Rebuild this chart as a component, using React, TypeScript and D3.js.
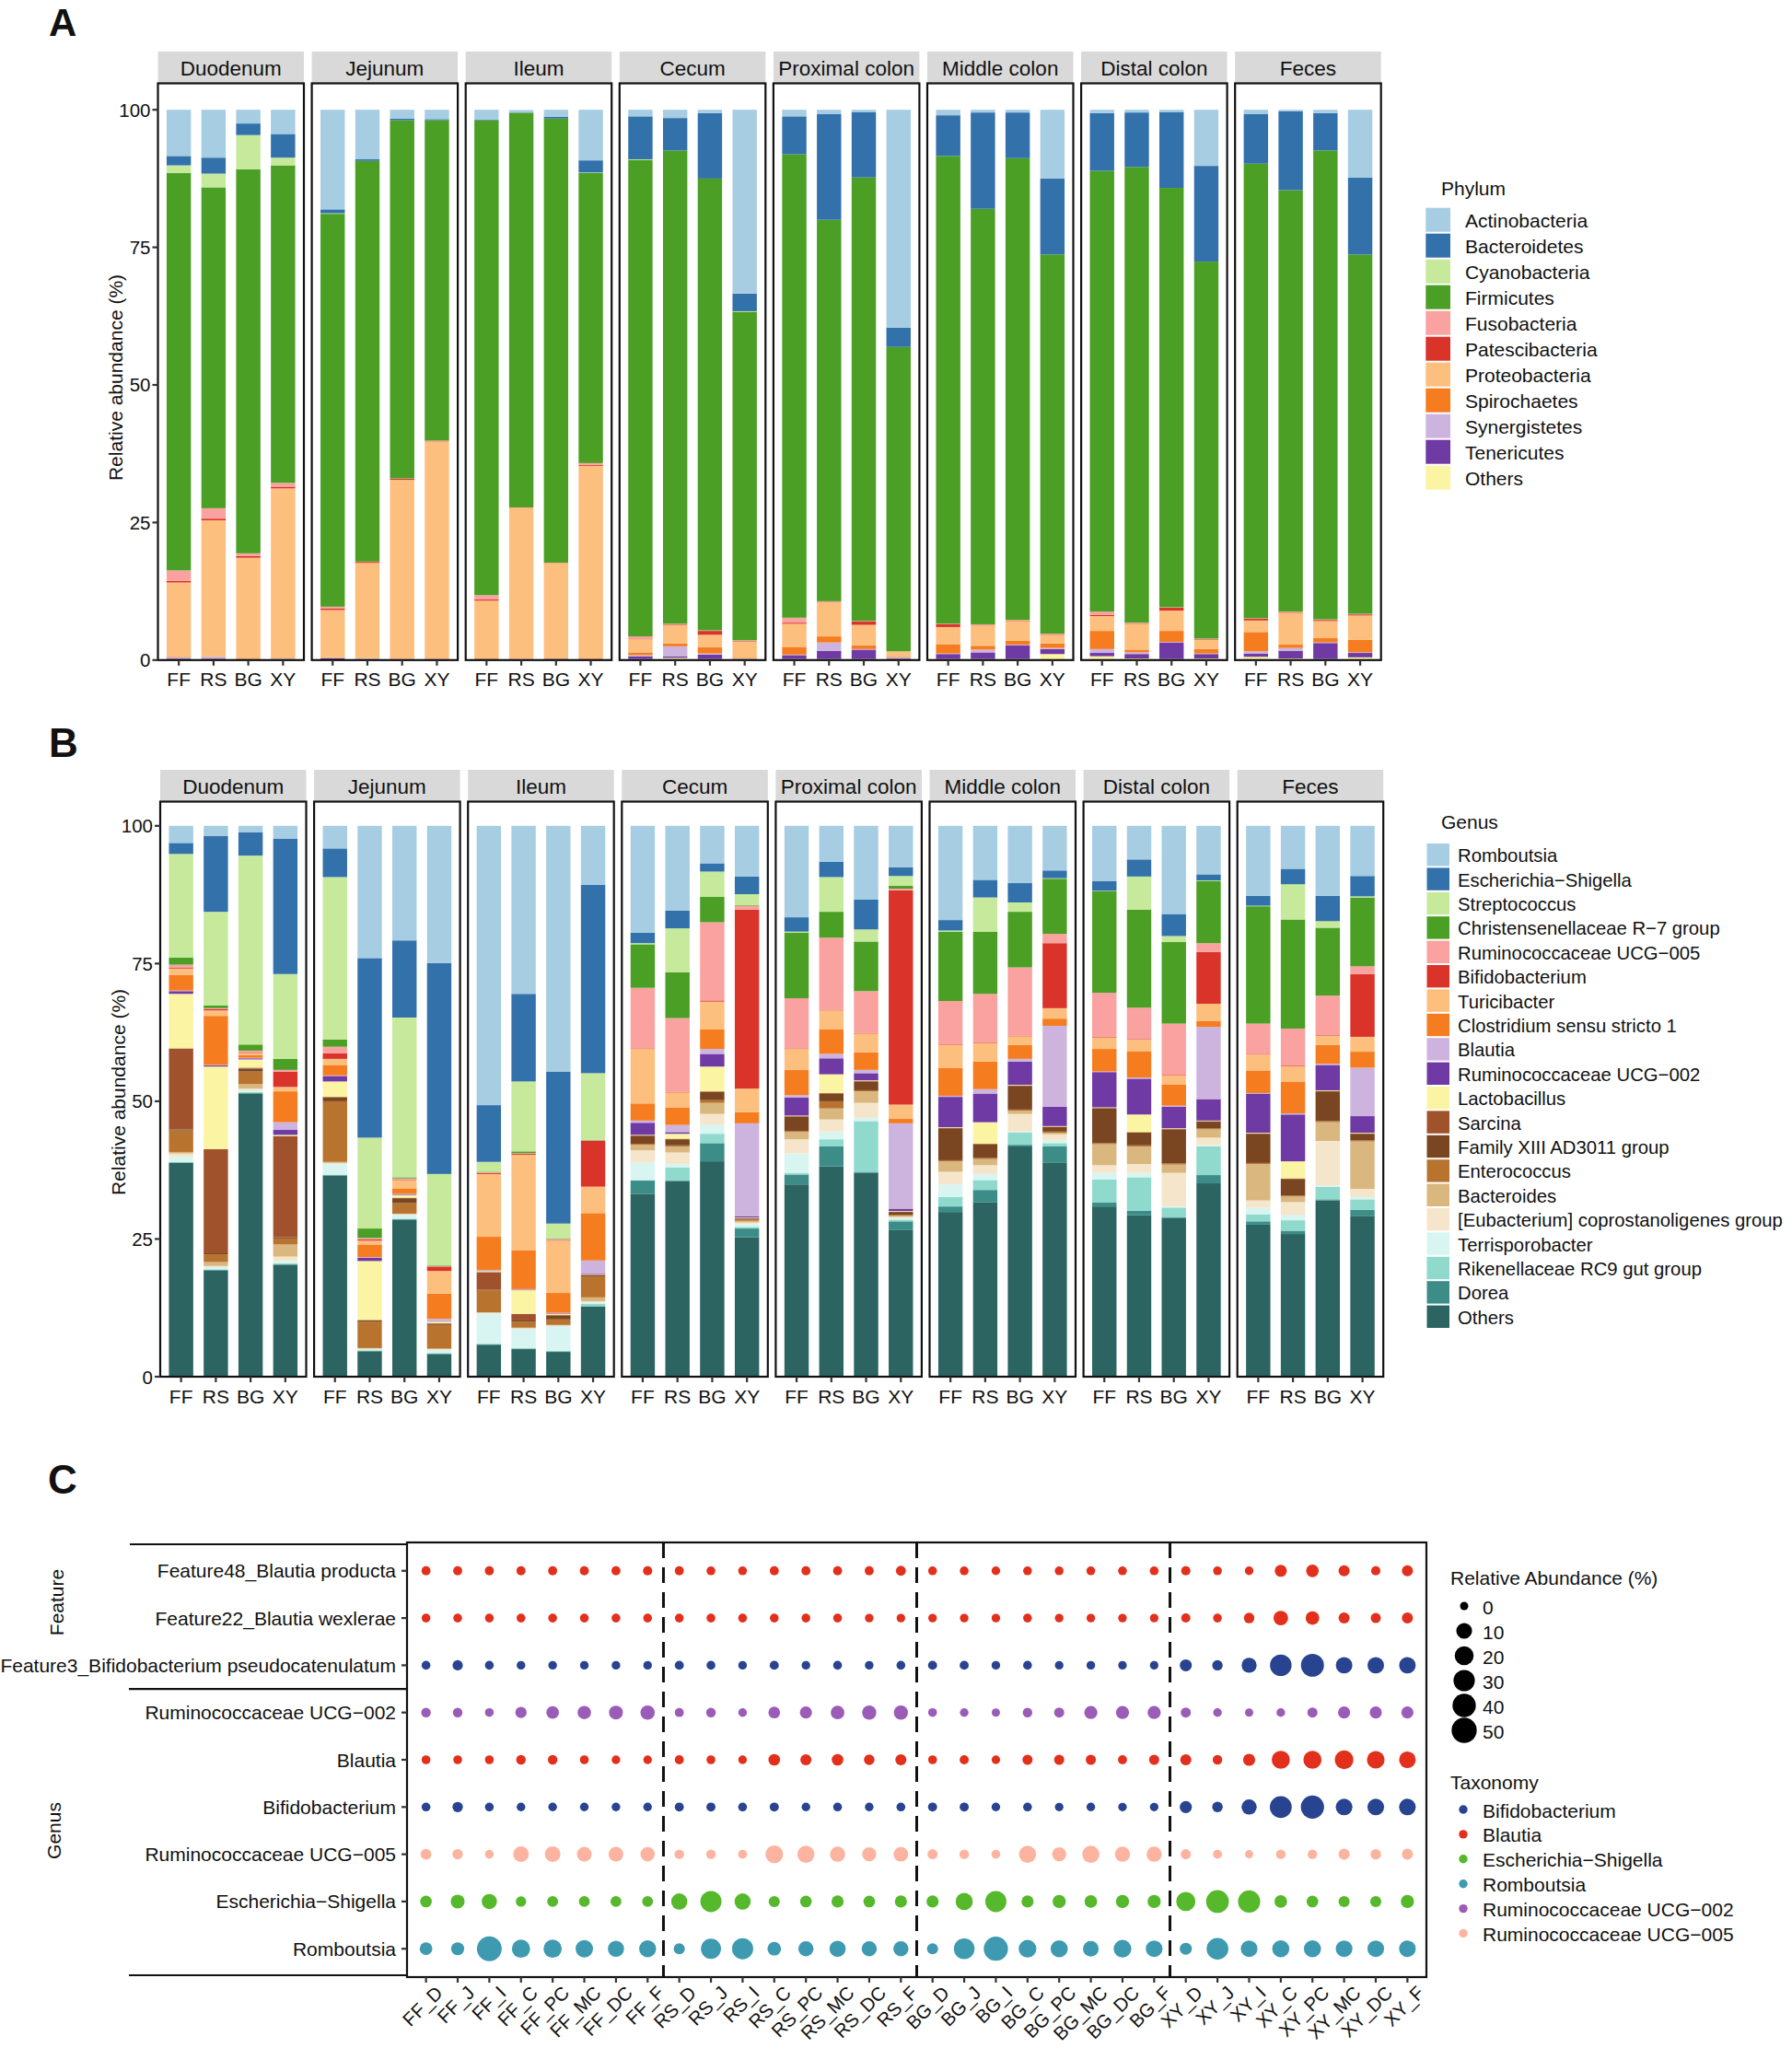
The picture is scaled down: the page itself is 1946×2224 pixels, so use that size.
import React from "react";
import * as d3 from "d3";

const FONT = "'Liberation Sans', Arial, Helvetica, sans-serif";

const sites = ["Duodenum", "Jejunum", "Ileum", "Cecum", "Proximal colon", "Middle colon", "Distal colon", "Feces"];
const groups = ["FF", "RS", "BG", "XY"];
const yTicks = [0, 25, 50, 75, 100];

// ---------- Panel A : Phylum ----------
const phyla = ["Actinobacteria", "Bacteroidetes", "Cyanobacteria", "Firmicutes", "Fusobacteria", "Patescibacteria", "Proteobacteria", "Spirochaetes", "Synergistetes", "Tenericutes", "Others"];
const phylumColors = ["#a6cde2", "#3371ab", "#c6e99c", "#4a9f24", "#f9a29f", "#d9332a", "#fdbf7e", "#f67c20", "#cdb4df", "#6f3aa4", "#fbf4a3"];

// each bar listed bottom -> top : Others, Tenericutes, Synergistetes, Spirochaetes, Proteobacteria,
// Patescibacteria, Fusobacteria, Firmicutes, Cyanobacteria, Bacteroidetes, Actinobacteria
const phylumDuodenum = [
  [0.2, 0.1, 0.2, 0.1, 13.5, 0.3, 1.9, 72.2, 1.4, 1.7, 8.4],
  [0.2, 0.1, 0.3, 0.1, 24.7, 0.3, 1.9, 58.3, 2.5, 2.9, 8.7],
  [0.1, 0.05, 0.05, 0.1, 18.3, 0.3, 0.5, 69.8, 6.2, 2.1, 2.5],
  [0.2, 0.05, 0.05, 0.1, 30.8, 0.3, 0.7, 57.7, 1.4, 4.3, 4.4],
];
const phylumJejunum = [
  [0.1, 0.2, 0.1, 0.1, 8.6, 0.3, 0.3, 71.4, 0.1, 0.7, 18.1],
  [0.2, 0.05, 0.05, 0.05, 17.3, 0.2, 0.05, 72.8, 0, 0.3, 9.0],
  [0.1, 0.05, 0.05, 0.05, 32.5, 0.2, 0.05, 65.1, 0, 0.3, 1.6],
  [0.1, 0.05, 0.05, 0.05, 39.5, 0.1, 0.05, 58.2, 0, 0.2, 1.7],
];
const phylumIleum = [
  [0.1, 0.05, 0.05, 0.1, 10.5, 0.2, 0.8, 86.3, 0, 0.1, 1.8],
  [0.1, 0.05, 0.05, 0.05, 27.4, 0.05, 0.05, 71.7, 0, 0.05, 0.45],
  [0.1, 0.1, 0.05, 0.05, 17.3, 0.05, 0.05, 80.7, 0, 0.3, 1.3],
  [0.1, 0.05, 0.05, 0.1, 35.0, 0.2, 0.3, 52.7, 0.1, 2.2, 9.2],
];
const phylumCecum = [
  [0.2, 0.5, 0.2, 0.5, 2.4, 0.1, 0.4, 86.6, 0.1, 7.8, 1.2],
  [0.4, 0.3, 1.8, 0.5, 3.4, 0.1, 0.1, 86.0, 0, 5.9, 1.5],
  [0.2, 0.8, 0.2, 1.1, 2.3, 0.7, 0.1, 82.1, 0, 11.9, 0.6],
  [0.2, 0.05, 0.05, 0.1, 3.0, 0.1, 0.1, 59.7, 0.1, 3.2, 33.4],
];
const phylumProximal = [
  [0.2, 0.7, 0.1, 1.4, 4.2, 0.2, 0.9, 84.2, 0, 6.9, 1.2],
  [0.2, 1.5, 1.5, 1.1, 6.2, 0.1, 0.1, 69.3, 0, 19.2, 0.8],
  [0.2, 1.7, 0.1, 0.7, 3.7, 0.6, 0.1, 80.6, 0, 11.9, 0.4],
  [0.2, 0.1, 0.2, 0.1, 1.0, 0, 0, 55.3, 0, 3.5, 39.6],
];
const phylumMiddle = [
  [0.2, 0.9, 0.1, 1.7, 3.1, 0.5, 0.1, 85.0, 0, 7.4, 1.0],
  [0.2, 1.2, 0.5, 0.7, 3.7, 0.1, 0.1, 75.5, 0, 17.5, 0.5],
  [0.2, 2.5, 0.1, 0.7, 3.6, 0.1, 0.1, 83.9, 0, 8.3, 0.5],
  [1.1, 0.9, 0.2, 0.8, 1.6, 0.1, 0.1, 68.9, 0, 13.8, 12.5],
];
const phylumDistal = [
  [0.7, 0.6, 0.7, 3.3, 2.7, 0.2, 0.6, 80.1, 0, 10.5, 0.6],
  [0.3, 0.8, 0.3, 0.5, 4.7, 0.1, 0.1, 82.8, 0, 9.9, 0.5],
  [0.2, 3.0, 0.1, 2.0, 3.7, 0.5, 0.1, 76.2, 0, 13.8, 0.4],
  [0.3, 0.8, 0.1, 0.8, 1.7, 0.1, 0.1, 68.5, 0, 17.4, 10.2],
];
const phylumFeces = [
  [0.6, 0.6, 0.4, 3.5, 2.1, 0.3, 0.1, 82.6, 0, 9.0, 0.8],
  [0.3, 1.4, 0.5, 0.6, 5.8, 0.1, 0.1, 76.6, 0, 14.3, 0.3],
  [0.2, 2.9, 0.1, 0.8, 3.1, 0.2, 0.1, 85.2, 0, 6.8, 0.6],
  [0.5, 0.8, 0.1, 2.3, 4.4, 0.2, 0.1, 65.3, 0, 14.0, 12.3],
];
const phylumBySite = [phylumDuodenum, phylumJejunum, phylumIleum, phylumCecum, phylumProximal, phylumMiddle, phylumDistal, phylumFeces];

// ---------- Panel B : Genus ----------
const genera = ["Romboutsia", "Escherichia\u2212Shigella", "Streptococcus", "Christensenellaceae R\u22127 group", "Ruminococcaceae UCG\u2212005", "Bifidobacterium", "Turicibacter", "Clostridium sensu stricto 1", "Blautia", "Ruminococcaceae UCG\u2212002", "Lactobacillus", "Sarcina", "Family XIII AD3011 group", "Enterococcus", "Bacteroides", "[Eubacterium] coprostanoligenes group", "Terrisporobacter", "Rikenellaceae RC9 gut group", "Dorea", "Others"];
const genusColors = ["#a6cde2", "#3371ab", "#c6e99c", "#4a9f24", "#f9a29f", "#d9332a", "#fdbf7e", "#f67c20", "#cdb4df", "#6f3aa4", "#fbf4a3", "#a0522d", "#7a4622", "#b8742f", "#d9b77e", "#f5e6cb", "#d8f5f2", "#8fd9cd", "#3c8d88", "#2b6460"];

// each bar listed bottom -> top : Others, Dorea, Rikenellaceae, Terrisporobacter, Eubacterium, Bacteroides,
// Enterococcus, Family XIII, Sarcina, Lactobacillus, UCG-002, Blautia, Clostridium, Turicibacter,
// Bifidobacterium, UCG-005, Christensenellaceae, Streptococcus, Escherichia, Romboutsia
const genusDuodenum = [
  [38.8, 0.1, 0.1, 0.9, 0.6, 0.3, 3.9, 0.2, 14.7, 9.9, 0.5, 0.1, 2.8, 1.2, 0.2, 0.5, 1.3, 18.8, 2.0, 3.1],
  [19.3, 0.1, 0.1, 0.4, 0.2, 0.7, 1.4, 0.2, 18.9, 15.0, 0.2, 0.1, 8.9, 1.0, 0.2, 0.2, 0.5, 17.0, 13.8, 1.8],
  [51.4, 0.1, 0.2, 0.3, 0.3, 0.8, 2.3, 0.5, 0.2, 1.5, 0.2, 0.1, 0.5, 0.3, 0.1, 0.4, 1.1, 34.3, 4.2, 1.2],
  [20.3, 0.1, 0.2, 0.4, 0.8, 2.2, 1.1, 0.2, 18.4, 0.2, 0.9, 1.4, 5.6, 0.8, 2.8, 0.3, 2.0, 15.4, 24.6, 2.3],
];
const genusJejunum = [
  [36.5, 0.1, 0.1, 1.9, 0.2, 0.2, 11.0, 0.7, 0.1, 2.8, 1.0, 0.1, 1.9, 1.1, 1.0, 1.2, 1.3, 29.5, 5.2, 4.1],
  [4.6, 0.1, 0.1, 0.2, 0.1, 0.1, 4.8, 0.2, 0.1, 10.7, 0.6, 0.1, 2.3, 0.7, 0.2, 0.3, 1.7, 16.5, 32.6, 24.0],
  [28.5, 0.1, 0.1, 0.7, 0.1, 0.1, 1.9, 0.9, 0.1, 0.5, 0.1, 0.1, 1.0, 1.5, 0.1, 0.2, 0.2, 29.0, 14.0, 20.8],
  [4.1, 0.1, 0.1, 0.6, 0.1, 0.1, 4.3, 0.2, 0.1, 0.3, 0.1, 0.4, 4.6, 4.1, 0.8, 0.1, 0.1, 16.6, 38.3, 24.9],
];
const genusIleum = [
  [5.8, 0.1, 0.1, 5.5, 0.1, 0.1, 4.0, 0.1, 3.2, 0.2, 0.1, 0.1, 6.0, 11.4, 0.2, 0.1, 0.1, 1.8, 10.3, 50.7],
  [5.0, 0.1, 0.1, 3.5, 0.1, 0.1, 1.1, 0.2, 1.2, 4.3, 0.1, 0.1, 7.0, 17.4, 0.2, 0.1, 0.3, 12.7, 15.9, 30.5],
  [4.5, 0.1, 0.1, 4.5, 0.1, 0.1, 1.0, 0.7, 0.1, 0.2, 0.1, 0.1, 3.6, 9.5, 0.1, 0.2, 0.1, 2.7, 27.6, 44.6],
  [12.7, 0.1, 0.4, 0.3, 0.2, 0.7, 3.8, 0.2, 0.1, 0.1, 0.1, 2.4, 8.6, 4.8, 8.3, 0.1, 0.1, 12.1, 34.2, 10.7],
];
const genusCecum = [
  [33.2, 2.4, 0.1, 3.2, 2.2, 1.0, 0.2, 1.4, 0.1, 0.1, 2.2, 0.4, 3.1, 9.9, 0.1, 11.0, 7.9, 0.2, 1.9, 19.4],
  [35.5, 0.1, 2.4, 0.6, 2.1, 1.1, 0.2, 1.1, 0.1, 0.9, 0.3, 1.3, 3.2, 2.7, 0.1, 13.4, 8.3, 8.0, 3.2, 15.4],
  [39.1, 3.3, 1.7, 1.7, 1.9, 2.0, 0.5, 1.5, 0.1, 4.5, 2.3, 0.9, 3.6, 5.0, 0.2, 14.2, 4.6, 4.6, 1.5, 6.8],
  [25.3, 1.6, 0.3, 0.5, 0.3, 0.3, 0.2, 0.2, 0.1, 0.1, 0.2, 16.9, 2.0, 4.3, 32.5, 0.7, 0.1, 2.0, 3.2, 9.2],
];
const genusProximal = [
  [34.9, 1.8, 0.3, 3.5, 2.6, 1.3, 0.2, 2.6, 0.1, 0.1, 3.3, 0.4, 4.6, 3.8, 0.1, 9.1, 11.9, 0.2, 2.6, 16.6],
  [38.2, 3.6, 1.3, 1.4, 2.2, 2.0, 1.3, 1.4, 0.1, 3.4, 2.9, 0.8, 4.5, 3.4, 0.1, 13.1, 4.7, 6.3, 2.8, 6.5],
  [37.0, 0.2, 9.2, 0.6, 2.7, 2.1, 0.2, 1.6, 0.1, 0.1, 1.3, 0.6, 3.2, 3.4, 0.1, 7.6, 9.0, 2.2, 5.4, 13.4],
  [26.6, 1.6, 0.3, 0.3, 0.2, 0.2, 0.2, 0.5, 0.1, 0.1, 0.4, 15.5, 0.8, 2.6, 38.9, 0.3, 0.5, 1.8, 1.6, 7.5],
];
const genusMiddle = [
  [29.9, 1.0, 1.7, 2.3, 2.3, 1.9, 0.2, 5.8, 0.1, 0.1, 5.5, 0.2, 5.0, 4.2, 0.1, 7.9, 12.6, 0.2, 1.9, 17.1],
  [31.7, 2.2, 1.8, 1.1, 1.6, 1.1, 0.2, 2.5, 0.1, 3.9, 5.2, 0.8, 5.0, 3.4, 0.1, 8.8, 11.3, 6.2, 3.2, 9.8],
  [41.8, 0.3, 2.2, 0.2, 3.2, 0.6, 0.2, 4.3, 0.1, 0.1, 4.2, 0.5, 2.5, 1.6, 0.1, 12.4, 10.1, 1.7, 3.5, 10.4],
  [38.8, 3.0, 0.6, 0.6, 1.0, 0.3, 0.2, 0.8, 0.1, 0.1, 3.5, 14.7, 1.3, 1.9, 11.8, 1.7, 10.0, 0.1, 1.4, 8.1],
];
const genusDistal = [
  [30.9, 0.7, 4.2, 1.2, 1.4, 3.8, 0.2, 6.3, 0.1, 0.1, 6.4, 0.1, 4.1, 2.1, 0.1, 8.0, 18.4, 0.1, 1.8, 10.0],
  [29.3, 0.8, 6.1, 0.8, 1.6, 3.2, 0.2, 2.3, 0.1, 3.2, 6.5, 0.2, 4.8, 2.1, 0.1, 5.7, 17.8, 6.0, 3.1, 6.1],
  [28.8, 0.2, 1.7, 0.2, 6.1, 1.5, 0.2, 6.2, 0.1, 0.1, 3.9, 0.2, 3.8, 1.7, 0.1, 9.3, 14.8, 1.1, 4.0, 16.0],
  [35.1, 1.5, 5.2, 0.2, 1.4, 1.5, 0.2, 1.2, 0.1, 0.1, 3.9, 13.1, 1.1, 3.1, 9.4, 1.6, 11.3, 0.1, 1.1, 8.8],
];
const genusFeces = [
  [27.6, 0.6, 1.3, 1.2, 1.3, 6.6, 0.2, 5.3, 0.1, 0.1, 7.1, 0.1, 4.1, 2.9, 0.1, 5.5, 21.3, 0.1, 1.8, 12.7],
  [25.9, 0.6, 1.9, 1.0, 2.3, 1.0, 0.2, 3.0, 0.1, 3.1, 8.5, 0.2, 5.7, 2.9, 0.1, 6.7, 19.8, 6.4, 2.8, 7.8],
  [32.0, 0.2, 2.3, 0.2, 8.1, 3.4, 0.2, 5.4, 0.1, 0.1, 4.6, 0.2, 3.4, 1.7, 0.1, 7.2, 12.3, 1.2, 4.6, 12.7],
  [29.2, 1.1, 1.9, 0.4, 1.5, 8.6, 0.2, 1.2, 0.1, 0.1, 3.0, 8.8, 2.9, 2.7, 11.4, 1.4, 12.5, 0.2, 3.7, 9.1],
];
const genusBySite = [genusDuodenum, genusJejunum, genusIleum, genusCecum, genusProximal, genusMiddle, genusDistal, genusFeces];

// ---------- Panel C : bubble plot ----------
const siteCodes = ["D", "J", "I", "C", "PC", "MC", "DC", "F"];
const bubbleRows = ["Feature48_Blautia producta", "Feature22_Blautia wexlerae", "Feature3_Bifidobacterium pseudocatenulatum", "Ruminococcaceae UCG\u2212002", "Blautia", "Bifidobacterium", "Ruminococcaceae UCG\u2212005", "Escherichia\u2212Shigella", "Romboutsia"];
const taxa = ["Bifidobacterium", "Blautia", "Escherichia\u2212Shigella", "Romboutsia", "Ruminococcaceae UCG\u2212002", "Ruminococcaceae UCG\u2212005"];
const taxaColors = ["#284490", "#e2301d", "#55b92b", "#3e9ab1", "#9b5cb8", "#fcb4a0"];
const rowTaxon = [1, 1, 0, 4, 1, 0, 5, 2, 3];
const sizeBreaks = [0, 10, 20, 30, 40, 50];

// 32 columns: FF_D..FF_F, RS_D..RS_F, BG_D..BG_F, XY_D..XY_F
const abFeature48 = [0.1, 0.1, 0.1, 0.1, 0.1, 0.1, 0.1, 0.2, 0.1, 0.05, 0.05, 0.1, 0.1, 0.1, 0.1, 0.5, 0.05, 0.05, 0.02, 0.05, 0.05, 0.05, 0.05, 0.05, 0.2, 0.05, 0.02, 2.6, 3.3, 1.4, 0.2, 1.4];
const abFeature22 = [0.05, 0.05, 0.05, 0.05, 0.05, 0.05, 0.05, 0.05, 0.05, 0.05, 0.05, 0.05, 0.05, 0.05, 0.02, 0.02, 0.02, 0.02, 0.02, 0.05, 0.02, 0.02, 0.02, 0.02, 0.15, 0.05, 0.9, 7.1, 5.0, 1.4, 0.6, 1.4];
const abFeature3 = [0.05, 0.7, 0.05, 0.02, 0.02, 0.02, 0.02, 0.02, 0.1, 0.05, 0.02, 0.1, 0.02, 0.05, 0.02, 0.05, 0.1, 0.1, 0.02, 0.05, 0.01, 0.02, 0.01, 0.01, 2.4, 0.8, 8.0, 31.0, 38.0, 12.0, 12.0, 12.0];
const abUCG002 = [0.3, 0.3, 0.05, 1.6, 3.3, 4.7, 5.5, 6.5, 0.1, 0.3, 0.02, 2.0, 2.6, 5.0, 6.1, 6.1, 0.05, 0.02, 0.0, 0.3, 0.6, 4.2, 4.2, 4.2, 0.6, 0.02, 0.0, 0.02, 0.6, 2.6, 2.6, 2.6];
const abBlautia = [0.05, 0.05, 0.05, 0.3, 0.3, 0.05, 0.02, 0.02, 0.1, 0.05, 0.02, 2.0, 1.4, 2.0, 0.9, 1.4, 0.05, 0.1, 0.01, 0.6, 0.6, 0.6, 0.1, 0.6, 1.4, 0.3, 2.6, 17.1, 17.1, 19.1, 15.5, 12.4];
const abBifido = [0.05, 0.8, 0.05, 0.02, 0.02, 0.02, 0.02, 0.02, 0.1, 0.1, 0.05, 0.1, 0.02, 0.05, 0.02, 0.05, 0.1, 0.1, 0.02, 0.05, 0.01, 0.02, 0.01, 0.01, 2.6, 0.9, 8.4, 32.5, 39.2, 12.4, 12.4, 12.4];
const abUCG005 = [1.2, 0.8, 0.05, 9.5, 9.5, 7.3, 7.3, 6.5, 0.3, 0.3, 0.1, 15.5, 13.8, 8.4, 6.1, 7.1, 0.6, 0.3, 0.05, 13.8, 6.1, 13.8, 8.4, 8.4, 0.6, 0.1, 0.0, 0.3, 0.3, 1.4, 0.9, 1.4];
const abEsch = [2.0, 5.5, 8.4, 0.8, 1.2, 1.2, 1.2, 1.2, 11.0, 29.0, 11.0, 1.4, 2.0, 2.6, 2.0, 2.6, 2.6, 13.8, 29.0, 2.6, 4.2, 3.3, 4.2, 4.2, 20.8, 36.8, 34.0, 3.3, 2.0, 1.4, 1.4, 4.2];
const abRomb = [3.3, 4.0, 47.8, 17.4, 17.4, 14.6, 10.8, 13.2, 1.4, 24.9, 29.0, 5.0, 8.4, 11.0, 8.4, 8.4, 1.4, 27.2, 44.7, 15.5, 13.8, 9.6, 15.5, 12.4, 2.6, 31.8, 12.4, 13.8, 13.8, 12.4, 12.4, 12.4];
const bubbleData = [abFeature48, abFeature22, abFeature3, abUCG002, abBlautia, abBifido, abUCG005, abEsch, abRomb];

// ---------- components ----------
type PanelProps = {
  data: number[][][];
  colors: string[];
  left0: number;
  pitch: number;
  width: number;
  panelTop: number;
  panelBottom: number;
  yMax: number;
  stripTop: number;
  titleX: number;
  titleY: number;
};

function StackedPanel(p: PanelProps) {
  const y = d3.scaleLinear().domain([0, p.yMax]).range([p.panelBottom, p.panelTop]);
  const keys = p.colors.map((_, i) => String(i));
  return (
    <g>
      <text transform={`translate(${p.titleX},${p.titleY}) rotate(-90)`} textAnchor="middle" dominantBaseline="central" fontSize={21} fill="#111">
        Relative abundance (%)
      </text>
      {sites.map((site, si) => {
        const left = p.left0 + si * p.pitch;
        const x = d3.scaleLinear().domain([0.4, 4.6]).range([left, left + p.width]);
        const rows = p.data[si].map((vals) => {
          const o: Record<string, number> = {};
          vals.forEach((v, k) => (o[String(k)] = v));
          return o;
        });
        const series = d3.stack<Record<string, number>>().keys(keys)(rows);
        const half = x(1.35) - x(1);
        return (
          <g key={site}>
            <rect x={left} y={p.stripTop} width={p.width} height={p.panelTop - p.stripTop} fill="#d9d9d9" />
            <text x={left + p.width / 2} y={(p.stripTop + p.panelTop) / 2 + 1} textAnchor="middle" dominantBaseline="central" fontSize={22.5} fill="#111">
              {site}
            </text>
            {series.map((s, k) =>
              s.map((d, gi) => {
                const h = y(d[0]) - y(d[1]);
                if (h <= 0) return null;
                return <rect key={`${k}-${gi}`} x={x(gi + 1) - half} y={y(d[1])} width={2 * half} height={h} fill={p.colors[k]} />;
              })
            )}
            <rect x={left} y={p.panelTop} width={p.width} height={p.panelBottom - p.panelTop} fill="none" stroke="#111" strokeWidth={2.2} />
            {groups.map((g, gi) => (
              <g key={g}>
                <line x1={x(gi + 1)} x2={x(gi + 1)} y1={p.panelBottom} y2={p.panelBottom + 6} stroke="#333" strokeWidth={2.2} />
                <text x={x(gi + 1)} y={p.panelBottom + 21} textAnchor="middle" dominantBaseline="central" fontSize={21} fill="#111">
                  {g}
                </text>
              </g>
            ))}
            {si === 0 &&
              yTicks.map((t) => (
                <g key={t}>
                  <line x1={left - 6} x2={left} y1={y(t)} y2={y(t)} stroke="#333" strokeWidth={2.2} />
                  <text x={left - 8} y={y(t)} textAnchor="end" dominantBaseline="central" fontSize={20.5} fill="#111">
                    {t}
                  </text>
                </g>
              ))}
          </g>
        );
      })}
    </g>
  );
}

type LegendProps = {
  title: string;
  labels: string[];
  colors: string[];
  titleX: number;
  titleY: number;
  keyX: number;
  keyY0: number;
  keyW: number;
  keyH: number;
  pitch: number;
  labelX: number;
  fontSize: number;
};

function SwatchLegend(p: LegendProps) {
  return (
    <g>
      <text x={p.titleX} y={p.titleY} dominantBaseline="central" fontSize={21} fill="#111">
        {p.title}
      </text>
      {p.labels.map((l, i) => (
        <g key={l}>
          <rect x={p.keyX} y={p.keyY0 + i * p.pitch} width={p.keyW} height={p.keyH} fill={p.colors[i]} />
          <text x={p.labelX} y={p.keyY0 + i * p.pitch + p.keyH / 2 + 1} dominantBaseline="central" fontSize={p.fontSize} fill="#111">
            {l}
          </text>
        </g>
      ))}
    </g>
  );
}

function BubblePanel() {
  const cols = groups.flatMap((g) => siteCodes.map((s) => `${g}_${s}`));
  const x = d3.scaleLinear().domain([0.4, 32.6]).range([442, 1549]);
  const y = d3.scaleLinear().domain([0.4, 9.6]).range([1675, 2147]);
  const r = d3.scaleSqrt().domain([0, 50]).range([4.5, 13.65]);
  const top = 1675;
  const bottom = 2147;
  return (
    <g>
      {/* group separators on the left */}
      <line x1={141} x2={442} y1={1677} y2={1677} stroke="#111" strokeWidth={2.2} />
      <line x1={140} x2={442} y1={y(3.5)} y2={y(3.5)} stroke="#111" strokeWidth={2.2} />
      <line x1={140} x2={442} y1={2145} y2={2145} stroke="#111" strokeWidth={2.2} />
      <text transform={`translate(61,1740) rotate(-90)`} textAnchor="middle" dominantBaseline="central" fontSize={21} fill="#111">
        Feature
      </text>
      <text transform={`translate(58,1988) rotate(-90)`} textAnchor="middle" dominantBaseline="central" fontSize={21} fill="#111">
        Genus
      </text>
      {/* dashed group dividers */}
      {[8.5, 16.5, 24.5].map((v) => (
        <line key={v} x1={x(v)} x2={x(v)} y1={top} y2={bottom} stroke="#111" strokeWidth={3} strokeDasharray="17 10" />
      ))}
      {/* bubbles */}
      {bubbleData.map((row, ri) =>
        row.map((v, ci) => (
          <circle key={`${ri}-${ci}`} cx={x(ci + 1)} cy={y(ri + 1)} r={r(v)} fill={taxaColors[rowTaxon[ri]]} />
        ))
      )}
      <rect x={442} y={top} width={1549 - 442} height={bottom - top} fill="none" stroke="#111" strokeWidth={2.2} />
      {/* y axis */}
      {bubbleRows.map((lab, ri) => (
        <g key={lab}>
          <line x1={436} x2={442} y1={y(ri + 1)} y2={y(ri + 1)} stroke="#333" strokeWidth={2.2} />
          <text x={430} y={y(ri + 1)} textAnchor="end" dominantBaseline="central" fontSize={21} fill="#111">
            {lab}
          </text>
        </g>
      ))}
      {/* x axis */}
      {cols.map((c, ci) => (
        <g key={c}>
          <line x1={x(ci + 1)} x2={x(ci + 1)} y1={bottom} y2={bottom + 6} stroke="#333" strokeWidth={2.2} />
          <text transform={`translate(${x(ci + 1) + 9},${bottom + 8}) rotate(-45)`} textAnchor="end" dy="0.72em" fontSize={20.5} fill="#111">
            {c}
          </text>
        </g>
      ))}
      {/* size legend */}
      <text x={1575} y={1713} dominantBaseline="central" fontSize={21} fill="#111">
        Relative Abundance (%)
      </text>
      {sizeBreaks.map((b, i) => (
        <g key={b}>
          <circle cx={1590} cy={1744 + i * 27} r={r(b)} fill="#000" />
          <text x={1610} y={1745 + i * 27} dominantBaseline="central" fontSize={21} fill="#111">
            {b}
          </text>
        </g>
      ))}
      {/* taxonomy legend */}
      <text x={1575} y={1935} dominantBaseline="central" fontSize={21} fill="#111">
        Taxonomy
      </text>
      {taxa.map((t, i) => (
        <g key={t}>
          <circle cx={1589} cy={1965 + i * 26.9} r={4.7} fill={taxaColors[i]} />
          <text x={1610} y={1966 + i * 26.9} dominantBaseline="central" fontSize={21} fill="#111">
            {t}
          </text>
        </g>
      ))}
    </g>
  );
}

export default function App() {
  return (
    <div>
      <style>{`html,body{margin:0;padding:0;background:#fff;}`}</style>
      <svg width={1946} height={2224} viewBox="0 0 1946 2224" style={{ display: "block", fontFamily: FONT }}>
        <rect width={1946} height={2224} fill="#fff" />
        <text x={53} y={39} fontSize={42} fontWeight="bold" fill="#111">A</text>
        <text x={53} y={822} fontSize={44} fontWeight="bold" fill="#111">B</text>
        <text x={52} y={1622} fontSize={44} fontWeight="bold" fill="#111">C</text>

        <StackedPanel data={phylumBySite} colors={phylumColors.slice().reverse()} left0={171.5} pitch={167.1} width={158.5} panelTop={90.5} panelBottom={716.8} yMax={104.8} stripTop={56} titleX={125} titleY={410} />
        <SwatchLegend title="Phylum" labels={phyla} colors={phylumColors} titleX={1565} titleY={204.5} keyX={1548.3} keyY0={225.7} keyW={26.7} keyH={26} pitch={28} labelX={1591} fontSize={21} />

        <StackedPanel data={genusBySite} colors={genusColors.slice().reverse()} left0={174} pitch={167.1} width={158.5} panelTop={870.5} panelBottom={1495} yMax={104.4} stripTop={836} titleX={128} titleY={1186} />
        <SwatchLegend title="Genus" labels={genera} colors={genusColors} titleX={1565} titleY={892} keyX={1549.5} keyY0={916} keyW={24.5} keyH={24.4} pitch={26.4} labelX={1583} fontSize={20.3} />

        <BubblePanel />
      </svg>
    </div>
  );
}
